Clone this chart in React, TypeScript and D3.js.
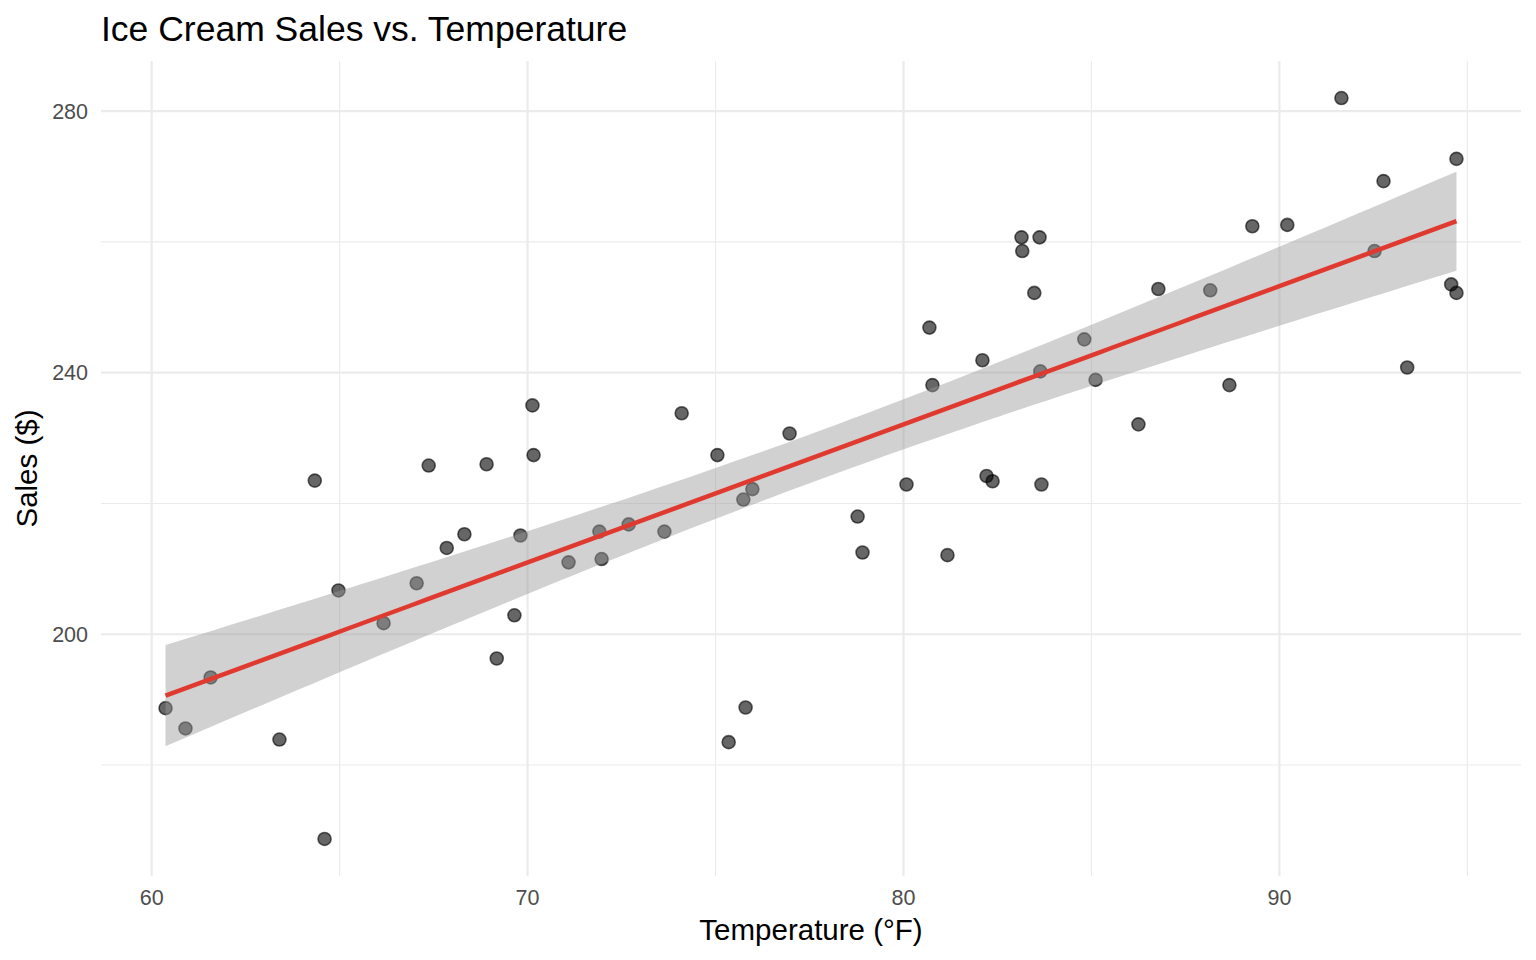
import { useEffect, useRef } from "react";
import * as d3 from "d3";

// temperature (°F) and sales ($)
const temperature = [
  60.37, 60.9, 61.57, 63.4, 64.34, 64.6, 64.97, 66.17, 67.05, 67.37,
  67.85, 68.32, 68.91, 69.18, 69.65, 69.81, 70.13, 70.16, 71.09, 71.91,
  71.97, 72.69, 73.64, 74.1, 75.05, 75.35, 75.74, 75.8, 75.98, 76.97,
  78.78, 78.91, 80.08, 80.69, 80.77, 81.17, 82.1, 82.21, 82.37, 83.14,
  83.16, 83.48, 83.62, 83.64, 83.67, 84.81, 85.11, 86.25, 86.78, 88.16,
  88.67, 89.28, 90.21, 91.65, 92.53, 92.77, 93.4, 94.57, 94.71, 94.71,
];
const sales = [
  188.7, 185.6, 193.4, 183.9, 223.5, 168.7, 206.7, 201.7, 207.8, 225.8,
  213.2, 215.3, 226.0, 196.3, 202.9, 215.1, 235.0, 227.4, 211.0, 215.7,
  211.5, 216.8, 215.7, 233.8, 227.4, 183.5, 220.6, 188.8, 222.2, 230.7,
  218.0, 212.5, 222.9, 246.9, 238.1, 212.1, 241.9, 224.2, 223.4, 260.7,
  258.6, 252.2, 260.7, 240.2, 222.9, 245.1, 238.9, 232.1, 252.8, 252.6,
  238.1, 262.4, 262.6, 282.0, 258.6, 269.3, 240.8, 253.5, 272.7, 252.2,
];

const xMajor = [60, 70, 80, 90];
const xMinor = [65, 75, 85, 95];
const yMajor = [200, 240, 280];
const yMinor = [160, 180, 220, 260];

const width = 1536;
const height = 960;
const panel = { left: 101, right: 1521, top: 61, bottom: 876 };
const font = "'Liberation Sans', Arial, Helvetica, sans-serif";

export default function App() {
  const svgRef = useRef<SVGSVGElement>(null);

  useEffect(() => {
    document.body.style.margin = "0";
    if (!svgRef.current) return;
    const svg = d3.select(svgRef.current);
    svg.selectAll("*").remove();

    const data = temperature.map((t, i) => ({ t, s: sales[i] }));

    // ggplot-style 5% expansion
    const [tMin, tMax] = d3.extent(temperature) as [number, number];
    const [sMin, sMax] = d3.extent(sales) as [number, number];
    const tPad = (tMax - tMin) * 0.05;
    const sPad = (sMax - sMin) * 0.05;

    const x = d3.scaleLinear().domain([tMin - tPad, tMax + tPad]).range([panel.left, panel.right]);
    const y = d3.scaleLinear().domain([sMin - sPad, sMax + sPad]).range([panel.bottom, panel.top]);

    // linear fit + 95% confidence band
    const n = data.length;
    const mx = d3.mean(temperature)!;
    const my = d3.mean(sales)!;
    const sxx = d3.sum(temperature, (t) => (t - mx) ** 2);
    const sxy = d3.sum(data, (d) => (d.t - mx) * (d.s - my));
    const slope = sxy / sxx;
    const intercept = my - slope * mx;
    const rss = d3.sum(data, (d) => (d.s - (intercept + slope * d.t)) ** 2);
    const sigma = Math.sqrt(rss / (n - 2));
    const tCrit = 2.0017; // qt(0.975, 58)

    const fit = d3.range(80).map((i) => {
      const t = tMin + ((tMax - tMin) * i) / 79;
      const yhat = intercept + slope * t;
      const se = sigma * Math.sqrt(1 / n + (t - mx) ** 2 / sxx);
      return { t, yhat, lo: yhat - tCrit * se, hi: yhat + tCrit * se };
    });

    // grid
    const grid = svg.append("g");
    grid
      .selectAll("line.xminor")
      .data(xMinor.filter((v) => x(v) >= panel.left && x(v) <= panel.right))
      .join("line")
      .attr("x1", (d) => x(d))
      .attr("x2", (d) => x(d))
      .attr("y1", panel.top)
      .attr("y2", panel.bottom)
      .attr("stroke", "#EBEBEB")
      .attr("stroke-width", 1.1);
    grid
      .selectAll("line.yminor")
      .data(yMinor.filter((v) => y(v) <= panel.bottom && y(v) >= panel.top))
      .join("line")
      .attr("x1", panel.left)
      .attr("x2", panel.right)
      .attr("y1", (d) => y(d))
      .attr("y2", (d) => y(d))
      .attr("stroke", "#EBEBEB")
      .attr("stroke-width", 1.1);
    grid
      .selectAll("line.xmajor")
      .data(xMajor)
      .join("line")
      .attr("x1", (d) => x(d))
      .attr("x2", (d) => x(d))
      .attr("y1", panel.top)
      .attr("y2", panel.bottom)
      .attr("stroke", "#EBEBEB")
      .attr("stroke-width", 2.2);
    grid
      .selectAll("line.ymajor")
      .data(yMajor)
      .join("line")
      .attr("x1", panel.left)
      .attr("x2", panel.right)
      .attr("y1", (d) => y(d))
      .attr("y2", (d) => y(d))
      .attr("stroke", "#EBEBEB")
      .attr("stroke-width", 2.2);

    // points
    svg
      .append("g")
      .selectAll("circle")
      .data(data)
      .join("circle")
      .attr("cx", (d) => x(d.t))
      .attr("cy", (d) => y(d.s))
      .attr("r", 6.5)
      .attr("fill", "#000")
      .attr("fill-opacity", 0.6)
      .attr("stroke", "#000")
      .attr("stroke-opacity", 0.6)
      .attr("stroke-width", 1.6);

    // confidence ribbon drawn over the points
    const area = d3
      .area<(typeof fit)[number]>()
      .x((d) => x(d.t))
      .y0((d) => y(d.lo))
      .y1((d) => y(d.hi));
    svg.append("path").datum(fit).attr("d", area).attr("fill", "#999999").attr("fill-opacity", 0.45);

    const line = d3
      .line<(typeof fit)[number]>()
      .x((d) => x(d.t))
      .y((d) => y(d.yhat));
    svg
      .append("path")
      .datum(fit)
      .attr("d", line)
      .attr("fill", "none")
      .attr("stroke", "#E03A30")
      .attr("stroke-width", 4.5);

    // tick labels
    svg
      .append("g")
      .selectAll("text")
      .data(xMajor)
      .join("text")
      .attr("x", (d) => x(d))
      .attr("y", 905)
      .attr("text-anchor", "middle")
      .attr("font-family", font)
      .attr("font-size", 21.5)
      .attr("fill", "#4D4D4D")
      .text((d) => d);
    svg
      .append("g")
      .selectAll("text")
      .data(yMajor)
      .join("text")
      .attr("x", 88)
      .attr("y", (d) => y(d))
      .attr("dy", "0.36em")
      .attr("text-anchor", "end")
      .attr("font-family", font)
      .attr("font-size", 21.5)
      .attr("fill", "#4D4D4D")
      .text((d) => d);

    // axis titles
    svg
      .append("text")
      .attr("x", (panel.left + panel.right) / 2)
      .attr("y", 940)
      .attr("text-anchor", "middle")
      .attr("font-family", font)
      .attr("font-size", 29.5)
      .attr("fill", "#000")
      .text("Temperature (°F)");
    svg
      .append("text")
      .attr("transform", `translate(37,${(panel.top + panel.bottom) / 2}) rotate(-90)`)
      .attr("text-anchor", "middle")
      .attr("font-family", font)
      .attr("font-size", 29.5)
      .attr("fill", "#000")
      .text("Sales ($)");

    // title
    svg
      .append("text")
      .attr("x", panel.left)
      .attr("y", 41)
      .attr("font-family", font)
      .attr("font-size", 35.5)
      .attr("fill", "#000")
      .text("Ice Cream Sales vs. Temperature");
  }, []);

  return <svg ref={svgRef} width={width} height={height} style={{ display: "block", background: "#fff" }} />;
}
